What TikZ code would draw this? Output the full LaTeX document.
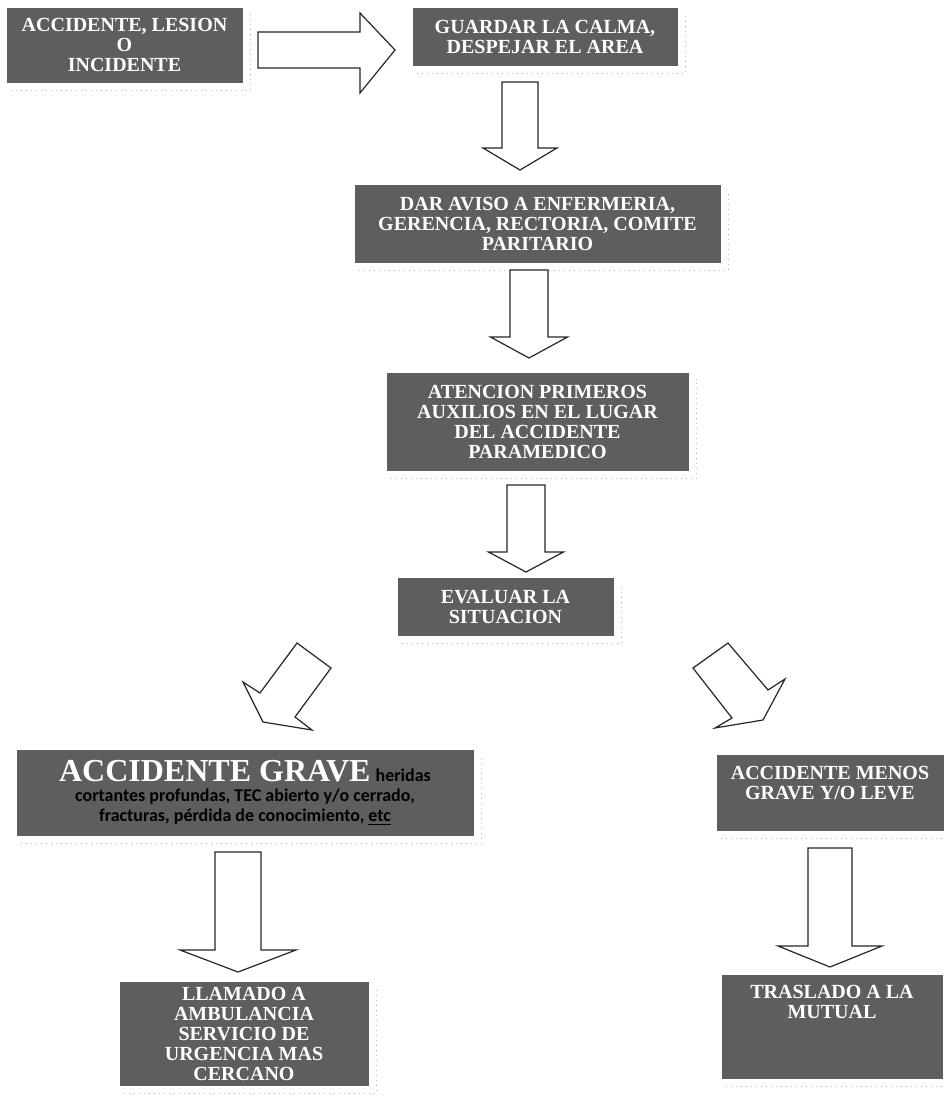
\documentclass[tikz,border=0pt]{standalone}
\usepackage{fontspec}
\setmainfont{Liberation Serif}
\newfontfamily\calibrifont{Carlito}
\definecolor{boxgray}{HTML}{5E5E5E}
\def\px{*0.5pt}
\newcommand\sanstext[1]{{\calibrifont\bfseries\fontsize{9}{10}\selectfont\color{black}#1}}
\tikzset{
  box/.style={draw=boxgray, fill=boxgray, text=white, font=\bfseries\fontsize{10}{10}\selectfont, align=center, inner sep=2pt},
  blockarrow/.style={draw=black!85, line width=0.6pt, fill=white, line join=miter},
  shadowline/.style={draw=black!30, dotted, line width=0.5pt}
}

\begin{document}
\begin{tikzpicture}[x=0.5pt,y=-0.5pt]
	\useasboundingbox (0,0) rectangle (945,1099);
	% cajas
	\node[box, minimum width=235\px, minimum height=74\px] (accidente) at (124.5,45) {ACCIDENTE, LESION\\O\\INCIDENTE};
	\node[box, minimum width=264\px, minimum height=57\px] (calma) at (545,36.5) {GUARDAR LA CALMA,\\DESPEJAR EL AREA};
	\node[box, minimum width=365\px, minimum height=77\px] (aviso) at (537.5,223.5) {DAR AVISO A ENFERMERIA,\\GERENCIA, RECTORIA, COMITE\\PARITARIO};
	\node[box, minimum width=301\px, minimum height=97\px] (atencion) at (537.5,421.5) {ATENCION PRIMEROS\\AUXILIOS EN EL LUGAR\\DEL ACCIDENTE\\PARAMEDICO};
	\node[box, minimum width=215\px, minimum height=57\px] (evaluar) at (505.5,606.5) {EVALUAR LA\\SITUACION};
	\node[box, minimum width=456\px, minimum height=85\px] (grave) at (245,792.5) {{\fontsize{16}{16}\selectfont ACCIDENTE GRAVE} \sanstext{heridas}\\\sanstext{cortantes profundas, TEC abierto y/o cerrado,}\\\sanstext{fracturas, pérdida de conocimiento, \underline{etc}}};
	\node[box, anchor=north, minimum width=226\px, text height=20pt, text depth=13.5pt] (menos) at (830,755) {ACCIDENTE MENOS\\GRAVE Y/O LEVE};
	\node[box, minimum width=248\px, minimum height=103\px] (llamado) at (244,1033.5) {LLAMADO A\\AMBULANCIA\\SERVICIO DE\\URGENCIA MAS\\CERCANO};
	\node[box, anchor=north, minimum width=220\px, text height=19.5pt, text depth=28pt] (traslado) at (832,975) {TRASLADO A LA\\MUTUAL};
	% sombras
	\foreach \n in {accidente,calma,aviso,atencion,evaluar,grave,menos,llamado,traslado}
		\draw[shadowline] ([xshift=2pt,yshift=-4pt]\n.south west) -- ([xshift=4pt,yshift=-4pt]\n.south east) -- ([xshift=4pt,yshift=-3pt]\n.north east);
	% flechas
	\draw[blockarrow] (258,32) -- (360,32) -- (360,13) -- (395,50) -- (360,93) -- (360,68) -- (258,68) -- cycle;
	\foreach \cx/\sw/\hw/\ytop/\ybase/\ytip in {520/18/37/82/148/170, 529/19/38.5/270/337/358, 526/19/37.5/485/552/572, 238/23/58/852/950/972, 830/22/52/848/946/967}
		\draw[blockarrow] (\cx-\sw,\ytop) -- (\cx+\sw,\ytop) -- (\cx+\sw,\ybase) -- (\cx+\hw,\ybase) -- (\cx,\ytip) -- (\cx-\hw,\ybase) -- (\cx-\sw,\ybase) -- cycle;
	\draw[blockarrow] (297,643) -- (331,668) -- (295,717) -- (312,730) -- (263,722) -- (243,682) -- (260,693) -- cycle;
	\draw[blockarrow] (728,643) -- (768,690) -- (785,679) -- (763,720) -- (715,728) -- (732,718) -- (693,668) -- cycle;
\end{tikzpicture}
\end{document}
